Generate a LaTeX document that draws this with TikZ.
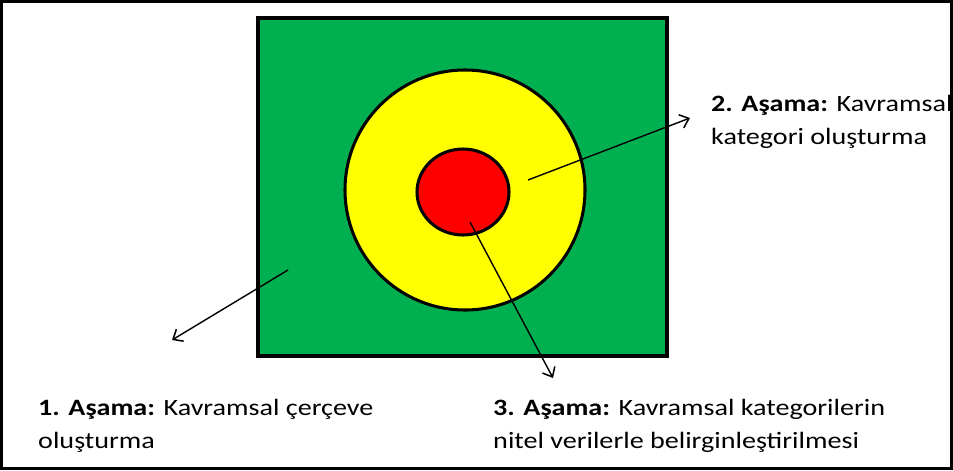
\documentclass[tikz,border=0pt]{standalone}
\usepackage{fontspec}
\setmainfont{Carlito}[FakeStretch=1.2]
\usetikzlibrary{arrows.meta}

\definecolor{ringgreen}{HTML}{00B050}
\definecolor{ringyellow}{HTML}{FFFF00}
\definecolor{ringred}{HTML}{FF0000}

\tikzset{
  stagelabel/.style={anchor=west,align=left,inner sep=0pt,
    font=\fontsize{20}{28.5}\selectfont},
  stagearrow/.style={line width=1.2pt,-{Straight Barb[length=7pt,width=12pt,line width=1.3pt]}},
}

\begin{document}
\begin{tikzpicture}[x=0.03cm,y=0.03cm]
\useasboundingbox (0,0) rectangle (953,-470);
\fill[white] (0,0) rectangle (953,-470);
\draw[line width=2.4pt] (1.5,-1.5) rectangle (951.5,-468.5);
% rings
\filldraw[fill=ringgreen,line width=2.6pt] (258,-18) rectangle (667,-356);
\filldraw[fill=ringyellow,line width=2.6pt] (465,-190) circle (120);
\filldraw[fill=ringred,line width=2.6pt] (463,-192) ellipse (46 and 43);
% arrow ends
\coordinate (s1) at (288,-270);
\coordinate (e1) at (172,-340);
\coordinate (s2) at (528,-180);
\coordinate (e2) at (690,-118);
\coordinate (s3) at (470,-222);
\coordinate (e3) at (553,-378);
\draw[stagearrow] (s1) -- (e1);
\draw[stagearrow] (s2) -- (e2);
\draw[stagearrow] (s3) -- (e3);
% labels
\node[stagelabel] (stage2) at (711,-122) {\textbf{2. Aşama:} Kavramsal\\kategori oluşturma};
\node[stagelabel] (stage1) at (38,-426) {\textbf{1. Aşama:} Kavramsal çerçeve\\oluşturma};
\node[stagelabel] (stage3) at (493,-426) {\textbf{3. Aşama:} Kavramsal kategorilerin\\nitel verilerle belirginleştirilmesi};
\end{tikzpicture}
\end{document}
